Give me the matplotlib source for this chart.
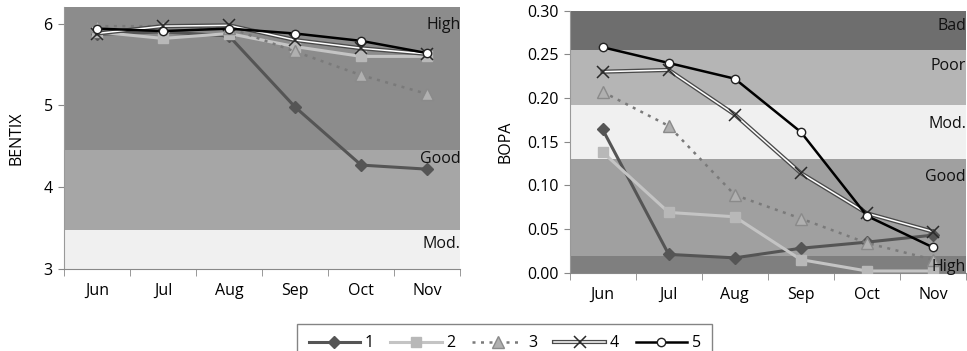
import matplotlib.pyplot as plt

plt.rcParams['font.family'] = ['Open Sans', 'DejaVu Sans']

months = ['Jun', 'Jul', 'Aug', 'Sep', 'Oct', 'Nov']
labels = ['1', '2', '3', '4', '5']

bentix_1 = [5.87, 5.90, 5.85, 4.98, 4.27, 4.22]
bentix_2 = [5.90, 5.82, 5.88, 5.72, 5.60, 5.60]
bentix_3 = [5.97, 5.97, 5.95, 5.66, 5.37, 5.14]
bentix_4 = [5.88, 5.97, 5.98, 5.80, 5.70, 5.63]
bentix_5 = [5.94, 5.91, 5.94, 5.88, 5.79, 5.64]

bopa_1 = [0.164, 0.021, 0.017, 0.028, 0.035, 0.043]
bopa_2 = [0.138, 0.069, 0.064, 0.015, 0.002, 0.002]
bopa_3 = [0.207, 0.168, 0.089, 0.062, 0.034, 0.015]
bopa_4 = [0.230, 0.232, 0.181, 0.114, 0.068, 0.047]
bopa_5 = [0.258, 0.240, 0.222, 0.161, 0.065, 0.029]

# quality class bands: (low, high, colour, label, label_y)
bentix_bands = [(4.46, 6.2, '#8c8c8c', 'High', 5.98),
                (3.47, 4.46, '#a6a6a6', 'Good', 4.34),
                (3.0, 3.47, '#f0f0f0', 'Mod.', 3.3)]
bopa_bands = [(0.255, 0.30, '#6e6e6e', 'Bad', 0.282),
              (0.192, 0.255, '#b5b5b5', 'Poor', 0.236),
              (0.130, 0.192, '#f0f0f0', 'Mod.', 0.170),
              (0.019, 0.130, '#a0a0a0', 'Good', 0.110),
              (0.0, 0.019, '#7f7f7f', 'High', 0.007)]

styles = [
    dict(color='#555555', lw=2.2, marker='D', ms=6, mfc='#555555', mec='#555555'),
    dict(color='#c4c4c4', lw=2.2, marker='s', ms=7, mfc='#b8b8b8', mec='#b8b8b8'),
    dict(color='#7a7a7a', lw=1.8, ls=(0, (1.2, 2.2)), marker='^', ms=9, mfc='#b0b0b0', mec='#8a8a8a'),
    dict(color='white', lw=1.1, marker='x', ms=8, mec='#2a2a2a', mew=1.1),
    dict(color='black', lw=1.8, marker='o', ms=6, mfc='white', mec='#222222', mew=1.0),
]

fig = plt.figure(figsize=(9.67, 3.51), dpi=100)
ax1 = fig.add_axes([0.066, 0.234, 0.410, 0.745])
ax2 = fig.add_axes([0.589, 0.223, 0.410, 0.747])

x = range(len(months))


def draw(ax, series, bands, ylim, yticks, yfmt, ylabel):
    for lo, hi, col, name, ly in bands:
        ax.axhspan(lo, hi, color=col, zorder=0, lw=0)
        ax.text(5.5, ly, name, ha='right', va='center', fontsize=11.5, color='#111111', zorder=5)
    handles = []
    for i, (vals, st) in enumerate(zip(series, styles)):
        if i == 3:
            # double line: dark outline under a thin white line
            outline, = ax.plot(x, vals, color='#4a4a4a', lw=3.0, zorder=3)
            ln, = ax.plot(x, vals, zorder=3, **st)
            handles.append((outline, ln))
        else:
            ln, = ax.plot(x, vals, zorder=3, **st)
            handles.append(ln)
    ax.set_xlim(-0.5, 5.5)
    ax.set_ylim(*ylim)
    ax.set_yticks(yticks)
    ax.set_yticklabels([yfmt.format(v) for v in yticks], fontsize=11.5)
    ax.set_xticks(list(x))
    ax.set_xticklabels(months, fontsize=11.5)
    ax.set_xticks([i - 0.5 for i in range(7)], minor=True)
    ax.tick_params(axis='x', which='major', length=0, pad=10)
    ax.tick_params(axis='x', which='minor', length=5, color='#888888')
    ax.tick_params(axis='y', length=4, color='#888888', pad=4)
    for s in ['top', 'right']:
        ax.spines[s].set_visible(False)
    ax.spines['left'].set_color('#999999')
    ax.spines['bottom'].set_color('#888888')
    ax.set_ylabel(ylabel, fontsize=11.5)
    return handles


handles = draw(ax1, [bentix_1, bentix_2, bentix_3, bentix_4, bentix_5], bentix_bands,
               (3, 6.2), [3, 4, 5, 6], '{:.0f}', 'BENTIX')
draw(ax2, [bopa_1, bopa_2, bopa_3, bopa_4, bopa_5], bopa_bands,
     (0, 0.30), [0, 0.05, 0.10, 0.15, 0.20, 0.25, 0.30], '{:.2f}', 'BOPA')
ax1.yaxis.labelpad = 14
ax2.yaxis.labelpad = 10

leg = fig.legend(handles, labels, loc='lower center', bbox_to_anchor=(0.522, -0.055),
                 ncol=5, fontsize=11.5, frameon=True, fancybox=False,
                 handlelength=3.2, handletextpad=0.3, columnspacing=1.05,
                 borderpad=0.7)
leg.get_frame().set_edgecolor('#666666')
leg.get_frame().set_linewidth(1.0)

fig.savefig('out.png', dpi=100)
